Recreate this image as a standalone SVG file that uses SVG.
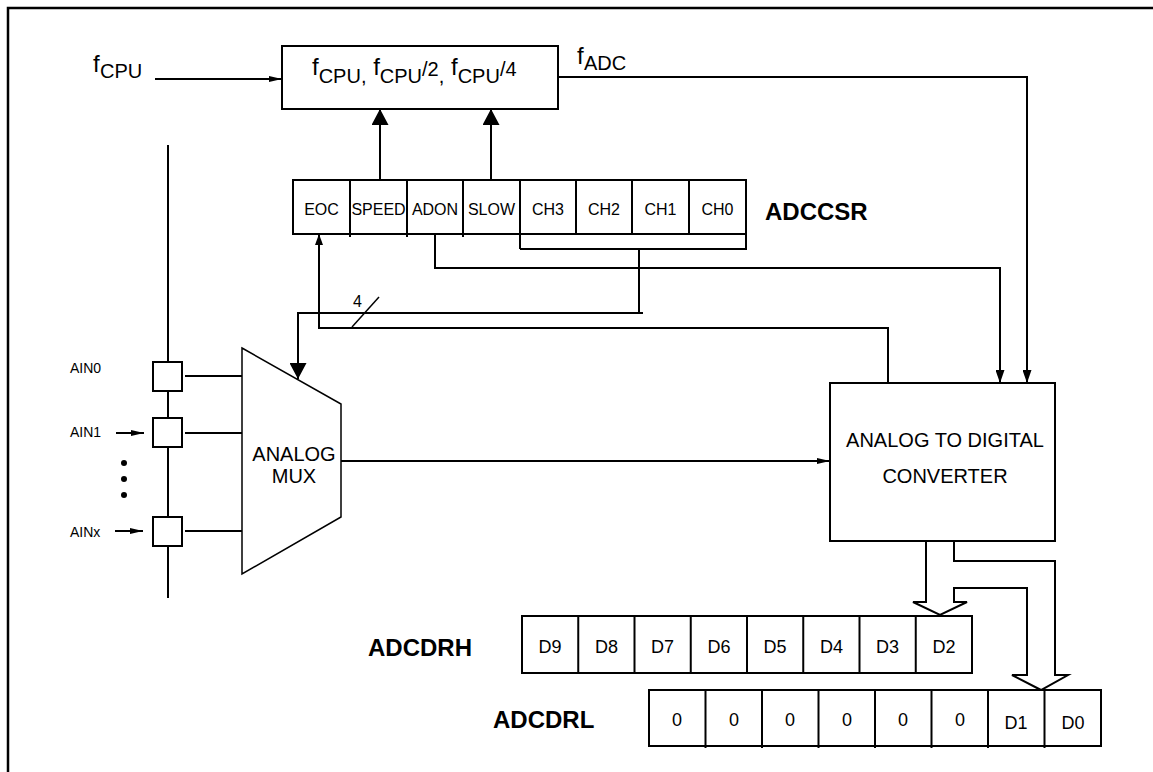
<svg xmlns="http://www.w3.org/2000/svg" width="1153" height="772" viewBox="0 0 1153 772">
<defs>
<style>
text{font-family:"Liberation Sans",Arial,Helvetica,sans-serif;fill:#000}
.ln{fill:none;stroke:#000;stroke-width:2}
.thin{fill:none;stroke:#000;stroke-width:1.5}
.box{fill:#fff;stroke:#000;stroke-width:2}
.cell{font-size:16px;text-anchor:middle}
.dcell{font-size:18px;text-anchor:middle}
.reg{font-size:24px;font-weight:bold}
.big{font-size:24px}
.sub{font-size:20px}
.pin{font-size:14px}
.lbl{font-size:20px;text-anchor:middle}
</style>
<marker id="ah" viewBox="0 0 13 6" refX="13" refY="3" markerWidth="13" markerHeight="6" markerUnits="userSpaceOnUse" orient="auto"><path d="M0,0 L13,3 L0,6 z"/></marker>
<marker id="ahm" viewBox="0 0 13 9" refX="13" refY="4.5" markerWidth="13" markerHeight="9" markerUnits="userSpaceOnUse" orient="auto"><path d="M0,0 L13,4.5 L0,9 z"/></marker>
<marker id="ahb" viewBox="0 0 16 17" refX="16" refY="8.5" markerWidth="16" markerHeight="17" markerUnits="userSpaceOnUse" orient="auto"><path d="M0,0 L16,8.5 L0,17 z"/></marker>
<marker id="ahe" viewBox="0 0 11 8" refX="11" refY="4" markerWidth="11" markerHeight="8" markerUnits="userSpaceOnUse" orient="auto"><path d="M0,0 L11,4 L0,8 z"/></marker>
</defs>
<rect width="1153" height="772" fill="#fff"/>
<path d="M8,772 V8 H1153" fill="none" stroke="#000" stroke-width="2.5"/>

<g id="connectors">
<path class="ln" d="M155,79 H282" marker-end="url(#ah)"/>
<path class="ln" d="M380,180 V109" marker-end="url(#ahb)"/>
<path class="ln" d="M491,180 V109" marker-end="url(#ahb)"/>
<path class="ln" d="M558,77 H1027 V383" marker-end="url(#ahm)"/>
<path class="ln" d="M435,234 V268 H1000 V383" marker-end="url(#ahm)"/>
<path class="ln" d="M639,249 V313"/>
<path class="ln" d="M643,313 H298 V379" marker-end="url(#ahb)"/>
<path class="ln" d="M888,383 V328 H319 V234" marker-end="url(#ahe)"/>
<path class="thin" d="M352,327 L379,297"/>
<text x="353" y="307" font-size="16">4</text>
<path class="ln" d="M185,376 H242 M185,433 H242 M185,531 H242"/>
<path class="ln" d="M116,433 H144" marker-end="url(#ah)"/>
<path class="ln" d="M115,531 H143" marker-end="url(#ah)"/>
<path class="ln" d="M341,461 H830" marker-end="url(#ah)"/>
<path class="ln" d="M168,145 V598"/>
<path class="ln" d="M954,541 V561 H1055 V675 H1068 L1041,690 L1012,675 H1027 V588 H954 V602 H967 L940,615 L913,602 H926 V541"/>
</g>

<g id="fcpu-label">
<text class="big" y="72"><tspan x="93">f</tspan><tspan class="sub" x="100" y="78">CPU</tspan></text>
</g>

<g id="prescaler">
<rect class="box" x="282" y="46" width="276" height="63"/>
<text class="big" x="312" y="75">f<tspan class="sub" dy="8">CPU,</tspan><tspan dy="-8"> f</tspan><tspan class="sub" dy="8">CPU</tspan><tspan class="sub" dy="-7">/2</tspan><tspan class="sub" dy="7">,</tspan><tspan dy="-8"> f</tspan><tspan class="sub" dy="8">CPU</tspan><tspan class="sub" dy="-7">/4</tspan></text>
</g>

<g id="fadc-label">
<text class="big" y="64"><tspan x="577">f</tspan><tspan class="sub" x="584" y="70">ADC</tspan></text>
</g>

<g id="adccsr">
<rect class="box" x="293" y="180" width="453" height="54"/>
<path class="ln" d="M350,180 V237 M407,180 V237 M463,180 V237 M520,180 V249 M576,180 V234 M632,180 V234 M689,180 V234 M520,249 H746 V234"/>
<text class="cell" y="215"><tspan x="321.5">EOC</tspan><tspan x="378.5">SPEED</tspan><tspan x="435">ADON</tspan><tspan x="491.5">SLOW</tspan><tspan x="548">CH3</tspan><tspan x="604">CH2</tspan><tspan x="660.5">CH1</tspan><tspan x="717.5">CH0</tspan></text>
<text class="reg" x="765" y="220">ADCCSR</text>
</g>

<g id="pins">
<rect class="box" x="153" y="362" width="29" height="29"/>
<rect class="box" x="153" y="418" width="29" height="29"/>
<rect class="box" x="153" y="517" width="29" height="29"/>
<text class="pin" x="70" y="373">AIN0</text>
<text class="pin" x="70" y="437">AIN1</text>
<text class="pin" x="70" y="537">AINx</text>
<circle cx="124" cy="463" r="3"/>
<circle cx="124" cy="479" r="3"/>
<circle cx="124" cy="495" r="3"/>
</g>

<g id="mux">
<polygon points="242,348 341,404 341,517 242,574" fill="#fff" stroke="#000" stroke-width="1.5"/>
<text class="lbl" x="294" y="461">ANALOG</text>
<text class="lbl" x="294" y="483">MUX</text>
</g>

<g id="adc">
<rect class="box" x="830" y="383" width="225" height="158"/>
<text class="lbl" x="945" y="447" font-size="19">ANALOG TO DIGITAL</text>
<text class="lbl" x="945" y="483" font-size="19">CONVERTER</text>
</g>

<g id="adcdrh">
<rect class="box" x="522" y="616" width="450" height="57"/>
<path class="ln" d="M578.25,616 V673 M634.5,616 V673 M690.75,616 V673 M747,616 V673 M803.25,616 V673 M859.5,616 V673 M915.75,616 V673"/>
<text class="dcell" y="653"><tspan x="550">D9</tspan><tspan x="606.5">D8</tspan><tspan x="662.5">D7</tspan><tspan x="719">D6</tspan><tspan x="775">D5</tspan><tspan x="831.5">D4</tspan><tspan x="887.5">D3</tspan><tspan x="944">D2</tspan></text>
<text class="reg" x="368" y="656">ADCDRH</text>
</g>

<g id="adcdrl">
<rect class="box" x="649" y="690" width="452" height="56"/>
<path class="ln" d="M705.5,690 V748 M762,690 V748 M818.5,690 V748 M875,690 V748 M931.5,690 V748 M988,690 V748 M1044.5,690 V748"/>
<text class="dcell" y="726"><tspan x="677">0</tspan><tspan x="734">0</tspan><tspan x="790">0</tspan><tspan x="847">0</tspan><tspan x="903">0</tspan><tspan x="960">0</tspan></text>
<text class="dcell" y="729"><tspan x="1016">D1</tspan><tspan x="1073">D0</tspan></text>
<text class="reg" x="493" y="728">ADCDRL</text>
</g>
</svg>
